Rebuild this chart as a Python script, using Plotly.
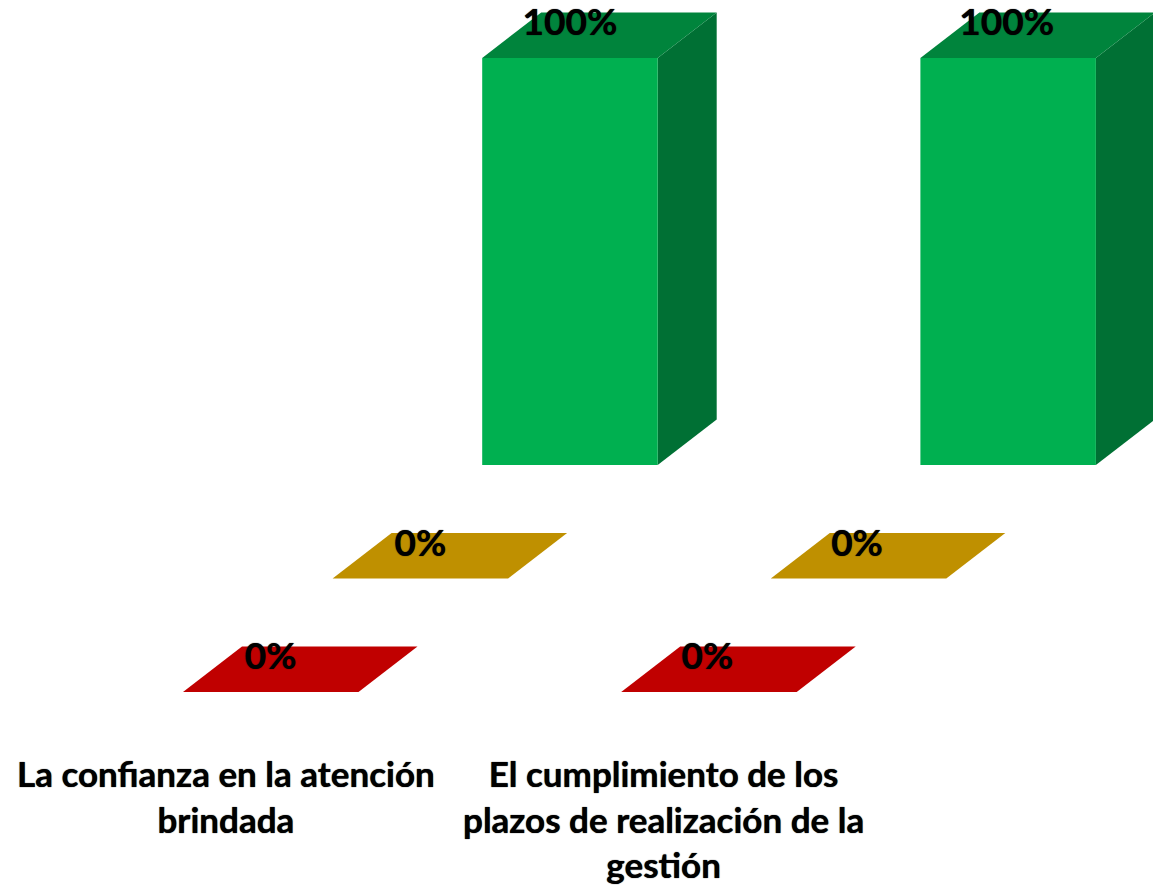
import plotly.graph_objects as go

categories = ["La confianza en la atención<br>brindada",
              "El cumplimiento de los<br>plazos de realización de la<br>gestión"]
series_names = ["Bajo", "Medio", "Alto"]
series_values = {
    "Bajo": [0, 0],
    "Medio": [0, 0],
    "Alto": [100, 100],
}
front_colors = ["#C00000", "#BF9000", "#00B050"]
top_colors = ["#C00000", "#BF9000", "#00843C"]
side_colors = ["#900000", "#8F6C00", "#007034"]

W, H = 1153, 886
X0, Y0 = 183, 692
CAT_DX = 438.2
SER_DX, SER_DY = 149.6, -113.5
BAR_W = 175.5
DEPTH_X, DEPTH_Y = 59, -45.5
UNIT = 4.07
BOLD_SHADOW = "0 0 1px #000000"


def poly(fig, xs, ys, color):
    fig.add_trace(go.Scatter(x=xs + xs[:1], y=ys + ys[:1], mode="lines", fill="toself",
                             fillcolor=color, line=dict(color=color, width=0),
                             hoverinfo="skip", showlegend=False))


fig = go.Figure()
value_x, value_y, value_text = [], [], []
for s, name in enumerate(series_names):
    for c, v in enumerate(series_values[name]):
        x = X0 + c * CAT_DX + s * SER_DX
        yb = Y0 + s * SER_DY
        yt = yb - v * UNIT
        if v > 0:
            poly(fig, [x + BAR_W, x + BAR_W + DEPTH_X, x + BAR_W + DEPTH_X, x + BAR_W],
                 [yb, yb + DEPTH_Y, yt + DEPTH_Y, yt], side_colors[s])
            poly(fig, [x, x + BAR_W, x + BAR_W, x], [yb, yb, yt, yt], front_colors[s])
        poly(fig, [x, x + BAR_W, x + BAR_W + DEPTH_X, x + DEPTH_X],
             [yt, yt, yt + DEPTH_Y, yt + DEPTH_Y], top_colors[s])
        value_x.append(x + BAR_W / 2 + 0.5 * DEPTH_X - 29.5 - 1.5 * c)
        value_y.append(yt + 0.8 * DEPTH_Y + 4.5)
        value_text.append(f"<b>{v}%</b>")

fig.add_trace(go.Scatter(x=value_x, y=value_y, text=value_text, mode="text",
                         textposition="middle center", hoverinfo="skip", showlegend=False,
                         cliponaxis=False,
                         textfont=dict(family="Lato", size=37, color="#000000", shadow=BOLD_SHADOW)))

label_x = [226, 663]
label_y = 775
for lx, t in zip(label_x, categories):
    fig.add_annotation(x=lx, y=label_y - 25, text=f"<b>{t}</b>", showarrow=False, yanchor="top",
                       align="center",
                       font=dict(family="Lato", size=35, color="#000000", shadow=BOLD_SHADOW))

fig.update_layout(width=W, height=H, margin=dict(l=0, r=0, t=0, b=0),
                  paper_bgcolor="#FFFFFF", plot_bgcolor="#FFFFFF", showlegend=False,
                  xaxis=dict(range=[0, W], visible=False, fixedrange=True),
                  yaxis=dict(range=[H, 0], visible=False, fixedrange=True))
fig.write_html("out.html", config={"displayModeBar": False},
               post_script="document.body.style.margin='0';document.body.style.overflow='hidden';")
